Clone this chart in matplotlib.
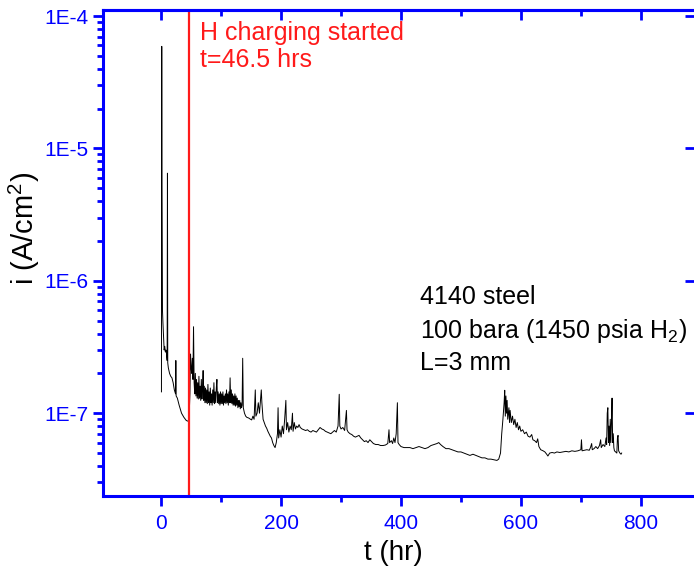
import math
import matplotlib
matplotlib.use("Agg")
import matplotlib.pyplot as plt
from matplotlib.ticker import FuncFormatter, MultipleLocator, LogLocator, NullLocator, NullFormatter

plt.rcParams["font.family"] = ["Liberation Sans", "DejaVu Sans"]
plt.rcParams["mathtext.fontset"] = "custom"
plt.rcParams["mathtext.rm"] = "Liberation Sans"

# current density is in units of 1e-8 A/cm2
# before / right after charging starts
t_early = [0.5, 1.0, 1.3, 1.8, 2.2, 2.6, 3, 4, 5, 6, 7, 8, 9, 10, 10.5, 11, 12, 14, 16, 18,
           20, 22, 24, 24.5, 25, 27, 30, 34, 38, 42, 45, 46.5, 48, 49, 50, 51, 52, 53, 54]
i_early = [14.5, 5900, 520, 120, 60, 52, 48, 38, 30, 32, 29, 30, 28, 25, 650, 24, 22, 20, 19, 18.5,
           17, 15, 14, 25, 13.5, 13, 11.5, 10, 9.3, 8.8, 8.7, 9.0, 14, 28, 22, 20, 26, 18, 45]

# noisy band after charging
t_band = [55, 56, 57, 58, 59, 60, 61, 62, 63, 64, 65, 66, 67, 68, 69, 70, 71, 72, 73, 74,
          75, 76, 77, 78, 79, 80, 81, 82, 83, 84, 85, 86, 87, 88, 89, 90, 91, 92, 93, 94,
          95, 96, 97, 98, 99, 100, 101, 102, 103, 104, 105, 106, 107, 108, 109, 110, 111, 112, 113, 114,
          115, 116, 117, 118, 119, 120, 121, 122, 123, 124, 125, 126, 127, 128, 129, 130, 131, 132, 133, 134,
          135]
i_band = [17, 14, 20, 13.5, 18, 13, 17, 12.8, 19, 13, 16, 12.5, 18, 12.8, 15.5, 21, 12.5, 16, 12, 15.5,
          12, 15, 11.8, 16.5, 12, 14.5, 11.5, 15.5, 12, 14, 11.5, 15, 12, 17, 11.8, 14.5, 12, 15.5, 18, 12,
          14.5, 11.8, 14, 11.5, 14.5, 11.8, 14, 11.8, 14.5, 11.5, 13.5, 12, 14, 11.8, 15, 12, 14, 11.5, 14.5, 12,
          18.5, 12, 15, 11.8, 14, 11.5, 13.5, 11.5, 14, 11.3, 13.5, 11.5, 13, 11, 12.5, 11.2, 12.5, 10.8, 12, 11,
          11.5]

# slow decay to the end of the test
t_late = [136, 137, 139, 141, 143, 146, 149, 151, 153, 155, 157, 158, 160, 162, 164, 166, 167,
          168, 170, 172, 174, 176, 178, 180, 182, 184, 186, 188, 190, 192, 194, 195, 196, 198, 200, 202, 204,
          206, 208, 209, 211, 213, 215, 217, 219, 220, 222, 224, 226, 228, 230, 232, 235, 238, 241, 244, 247,
          250, 253, 256, 259, 262, 265, 268, 271, 274, 277, 280, 283, 286, 289, 292, 295, 297, 298, 300, 303,
          306, 309, 310, 312, 315, 318, 321, 324, 327, 330, 333, 336, 339, 342, 345, 348, 351, 354, 358, 362,
          366, 370, 374, 378, 380, 381, 384, 386, 388, 390, 392, 394, 395, 397, 400, 405, 410, 415, 420, 425,
          430, 435, 440, 445, 450, 455, 460, 463, 466, 470, 475, 480, 485, 490, 495, 500, 505, 510, 515, 520,
          525, 530, 535, 540, 545, 550, 555, 560, 563, 566, 568, 570, 572, 573, 574, 575, 576, 577, 578, 580,
          581, 582, 584, 586, 588, 590, 592, 594, 596, 598, 600, 603, 606, 609, 612, 615, 618, 620, 623, 626,
          628, 630, 633, 637, 640, 643, 645, 648, 652, 656, 660, 665, 670, 675, 680, 685, 690, 695, 700, 701,
          702, 706, 710, 714, 716, 718, 719, 722, 725, 728, 731, 733, 734, 737, 740, 742, 743, 744, 745, 746,
          747, 748, 749, 750, 751, 752, 753, 754, 755, 756, 758, 760, 761, 762, 763, 765, 767, 768]
i_late = [26, 11, 10, 9.5, 9.3, 9.2, 9.0, 8.9, 9.5, 9.0, 15, 9.5, 10, 12, 10, 13, 15,
          12, 9, 8.5, 8, 7.7, 7.3, 7, 6.7, 6.5, 6.0, 5.7, 5.5, 6, 7, 11, 6.5, 7.5, 6.6, 8, 7,
          9, 12.5, 7.5, 8.5, 7.2, 8, 7.5, 10, 7.3, 8.5, 7.6, 8, 7.8, 8.2, 7.8, 7.6, 7.5, 7.4, 7.5, 7.3,
          7.2, 7.4, 7.3, 7.2, 7.5, 7.8, 7.6, 7.5, 7.3, 7.2, 7.1, 7.0, 7.2, 7.4, 7.2, 8, 13.9, 8, 7.6, 7.8,
          7.4, 10.5, 7.5, 7.2, 7.0, 6.9, 6.7, 6.6, 6.7, 6.8, 6.5, 6.3, 6.1, 6.2, 6.0, 6.3, 6.1, 5.9, 5.8, 5.8,
          5.7, 5.7, 5.75, 5.9, 7.5, 6, 6.2, 5.9, 6.5, 6.0, 7, 12, 6, 5.8, 5.6, 5.5, 5.5, 5.5, 5.4, 5.5,
          5.6, 5.5, 5.4, 5.5, 5.7, 5.8, 5.9, 6.0, 5.8, 5.6, 5.4, 5.4, 5.3, 5.2, 5.1, 5.1, 5.0, 4.9, 4.8, 4.9,
          4.8, 4.7, 4.6, 4.6, 4.5, 4.5, 4.45, 4.4, 4.5, 5.0, 7, 9, 12, 14.9, 9.5, 13.5, 10, 12.5, 9, 11,
          8.5, 10.5, 8.5, 9.5, 8.2, 9, 7.8, 8.5, 7.5, 8.0, 7.3, 7.5, 7.0, 7.2, 6.7, 6.6, 6.9, 6.3, 6.2, 6.0,
          6.4, 5.6, 5.3, 5.2, 5.1, 4.9, 4.75, 5.0, 5.05, 5.0, 5.1, 5.05, 5.1, 5.15, 5.1, 5.2, 5.15, 5.2, 5.3, 6.3,
          5.2, 5.25, 5.3, 5.25, 5.5, 5.9, 5.3, 5.4, 5.6, 5.4, 5.7, 6.3, 5.5, 5.8, 5.6, 6.5, 5.8, 10, 11, 6,
          8, 5.7, 9, 6, 8.5, 13, 6, 7, 5.5, 5.2, 5.1, 5.0, 6.5, 6.8, 5.2, 5.0, 4.9, 5.0]

t_hr = t_early + t_band + t_late
i_val = [v * 1e-8 for v in i_early + i_band + i_late]

t_charge = 46.5
blue = "#0000ff"
red = "#ff1a1a"

fig = plt.figure(figsize=(6.94, 5.73), dpi=100)
ax = fig.add_axes([0.1484, 0.1344, 0.8536, 0.8481])

ax.plot(t_hr, i_val, color="black", lw=0.7)
ax.axvline(t_charge, color=red, lw=1.6)

ax.set_yscale("log")
ax.set_xlim(-97, 891)
ax.set_ylim(2.37e-8, 1.11e-4)

ax.xaxis.set_major_locator(MultipleLocator(200))
ax.xaxis.set_minor_locator(MultipleLocator(100))
ax.yaxis.set_major_locator(LogLocator(base=10))
ax.yaxis.set_minor_locator(LogLocator(base=10, subs=[2, 3, 4, 5, 6, 7, 8, 9]))
ax.yaxis.set_minor_formatter(NullFormatter())
ax.yaxis.set_major_formatter(FuncFormatter(lambda v, p: "1E%d" % round(math.log10(v))))

for s in ax.spines.values():
    s.set_color(blue)
    s.set_linewidth(2.2)

ax.tick_params(axis="both", which="both", direction="out", color=blue, labelcolor=blue,
               labelsize=15, width=2)
ax.tick_params(axis="both", which="major", length=7)
ax.tick_params(axis="both", which="minor", length=4)
ax.tick_params(axis="x", pad=6)

top = ax.secondary_xaxis("top")
top.xaxis.set_major_locator(MultipleLocator(200))
top.xaxis.set_minor_locator(MultipleLocator(100))
top.tick_params(which="both", direction="in", color=blue, labeltop=False, width=2)
top.tick_params(which="major", length=7)
top.tick_params(which="minor", length=4)
top.spines["top"].set_color(blue)
top.spines["top"].set_linewidth(2.2)

right = ax.secondary_yaxis("right")
right.yaxis.set_minor_locator(NullLocator())
right.tick_params(which="both", direction="in", color=blue, labelright=False, width=2, length=7)
right.spines["right"].set_color(blue)

ax.set_xlabel("t (hr)", fontsize=20)
ax.set_ylabel("i (A/cm$^{2}$)", fontsize=21)
ax.xaxis.set_label_coords(0.49, -0.09)
ax.yaxis.set_label_coords(-0.103, 0.55)

ax.text(65, 0.978, "H charging started\nt=46.5 hrs", color=red, fontsize=18,
        va="top", ha="left", linespacing=1.15, transform=ax.get_xaxis_transform())

ax.text(432, 0.395, "4140 steel", fontsize=18, va="baseline", transform=ax.get_xaxis_transform())
ax.text(432, 0.325, r"100 bara (1450 psia H$_2$)", fontsize=18, va="baseline",
        transform=ax.get_xaxis_transform())
ax.text(432, 0.259, "L=3 mm", fontsize=18, va="baseline", transform=ax.get_xaxis_transform())

fig.savefig("out.png", dpi=100)
